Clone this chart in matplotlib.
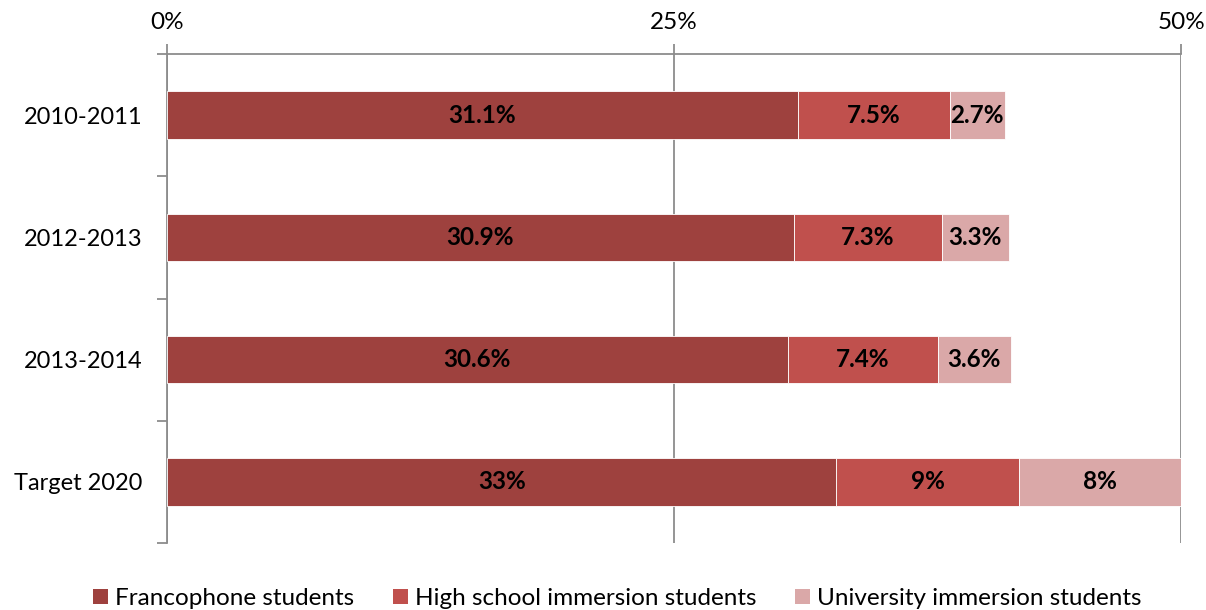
#!/usr/bin/env python3
from matplotlib import pyplot as plt
from matplotlib.patches import Patch
import numpy as np

# data
years = ['2010-2011', '2012-2013', '2013-2014', 'Target 2020']
francophone = [31.1, 30.9, 30.6, 33]
high_school = [7.5, 7.3, 7.4, 9]
university = [2.7, 3.3, 3.6, 8]
series_names = ['Francophone students', 'High school immersion students', 'University immersion students']
colors = ['#9E413E', '#C0504D', '#DAA8A8']

plt.rcParams['font.family'] = ['Lato', 'DejaVu Sans']

fig = plt.figure(figsize=(12.06, 6.10), dpi=100)
ax = fig.add_axes([0.1385, 0.1098, 0.8408, 0.8017])

y = np.arange(len(years))
left = np.zeros(len(years))
for vals, c in zip([francophone, high_school, university], colors):
	vals = np.array(vals, dtype=float)
	ax.barh(y, vals, left=left, height=0.39, color=c, edgecolor='white', linewidth=0.6, zorder=3)
	for yi, l, v in zip(y, left, vals):
		txt = ('%g%%' % v) if v == int(v) else ('%.1f%%' % v)
		ax.text(l + v / 2, yi, txt, ha='center', va='center', fontsize=17.5, fontweight='bold', color='black', zorder=4)
	left += vals

ax.set_xlim(0, 50)
ax.set_ylim(3.5, -0.5)
ax.xaxis.tick_top()
ax.set_xticks([0, 25, 50])
ax.set_xticklabels(['0%', '25%', '50%'], fontsize=17.5)
ax.tick_params(axis='x', length=7, width=1.3, color='#8C8C8C', pad=8)
ax.grid(axis='x', color='#8C8C8C', linewidth=1.3, zorder=0)

ax.set_yticks(y)
ax.set_yticklabels(years, fontsize=17)
ax.set_yticks(np.arange(-0.5, 4, 1), minor=True)
ax.tick_params(axis='y', which='major', length=0, pad=18)
ax.tick_params(axis='y', which='minor', length=7, width=1.3, color='#8C8C8C')

for s in ['right', 'bottom']:
	ax.spines[s].set_visible(False)
for s in ['left', 'top']:
	ax.spines[s].set_color('#8C8C8C')
	ax.spines[s].set_linewidth(1.3)

handles = [Patch(facecolor=c, label=n) for c, n in zip(colors, series_names)]
fig.legend(handles=handles, loc='lower center', ncol=3, frameon=False, fontsize=17.5,
	handlelength=0.6, handleheight=0.6, handletextpad=0.3, columnspacing=1.6,
	bbox_to_anchor=(0.512, -0.034))

plt.savefig('out.png', dpi=100)
